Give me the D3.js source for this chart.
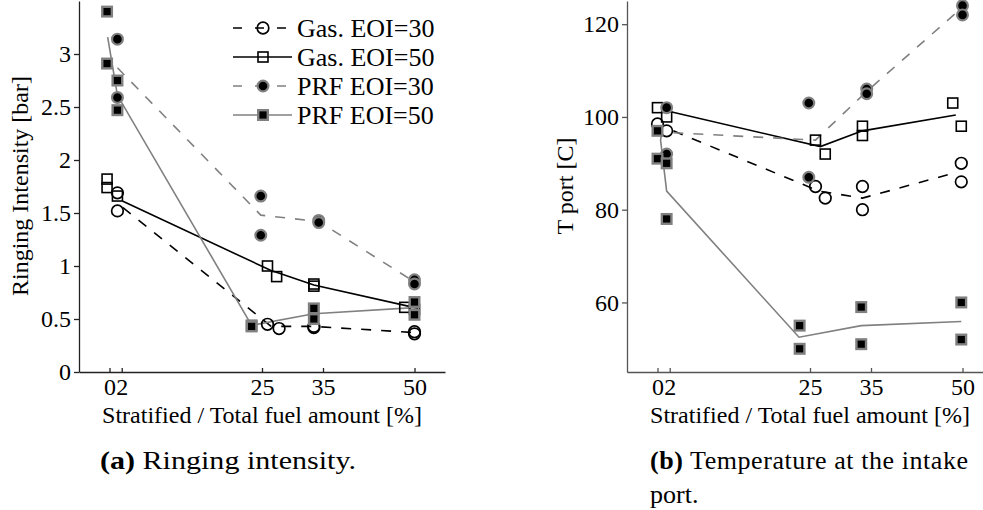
<!DOCTYPE html>
<html>
<head>
<meta charset="utf-8">
<script src="https://cdnjs.cloudflare.com/ajax/libs/d3/7.8.5/d3.min.js"></script>
<style>
body { margin: 0; background: #fff; }
text { font-family: "Liberation Serif", "Times New Roman", serif; fill: #000; }
</style>
</head>
<body>
<svg id="chart" width="983" height="510"></svg>
<script>
// x positions are the measured fuel split, slightly scattered around 0, 2, 25, 35, 50
var xTicks = [0, 2, 25, 35, 50];
var ringTicks = [0, 0.5, 1, 1.5, 2, 2.5, 3];
var tempTicks = [60, 80, 100, 120];

var seriesNames = ["Gas. EOI=30", "Gas. EOI=50", "PRF EOI=30", "PRF EOI=50"];

// (a) ringing intensity [bar]
var ringGas30 = [[1.3,1.69],[1.3,1.52],[25.9,0.45],[27.8,0.41],[33.5,0.43],[33.5,0.42],[50,0.38],[50,0.36]];
var ringGas50 = [[-0.4,1.82],[-0.4,1.74],[1.3,1.66],[25.9,1.00],[27.4,0.90],[33.5,0.83],[33.5,0.81],[48.4,0.61],[50,0.59]];
var ringPrf30 = [[1.3,3.14],[1.3,2.59],[24.8,1.66],[24.8,1.29],[34.3,1.43],[34.3,1.41],[50,0.87],[50,0.83]];
var ringPrf50 = [[-0.4,3.40],[-0.4,2.91],[1.3,2.75],[1.3,2.47],[23.3,0.44],[23.3,0.43],[33.5,0.60],[33.5,0.50],[50,0.66],[50,0.54]];
var ringGas30Line = [[2.2,1.55],[26.5,0.43],[33.5,0.43],[50.6,0.37]];
var ringGas50Line = [[2.2,1.61],[26.4,0.96],[33.5,0.82],[50.6,0.60]];
var ringPrf30Line = [[1.3,2.87],[24.8,1.48],[34.3,1.42],[50,0.85]];
var ringPrf50Line = [[-0.3,3.16],[1.3,2.61],[23.3,0.44],[33.5,0.55],[50.6,0.61]];

// (b) intake port temperature [C]
var tempGas30 = [[0,98.5],[1.5,97],[25.9,85],[27.5,82.5],[33.6,85],[33.6,80],[49.8,90],[49.8,86]];
var tempGas50 = [[0,102],[1.5,100],[25.9,95],[27.5,92],[33.6,98],[33.6,96],[48.4,103],[49.8,98]];
var tempPrf30 = [[1.5,102],[1.5,92],[24.8,103],[24.8,87],[34.3,106],[34.3,105],[50,124],[50,122]];
var tempPrf50 = [[0,97],[0,91],[1.5,90],[1.5,78],[23.3,55],[23.3,50],[33.4,59],[33.4,51],[49.8,60],[49.8,52]];
var tempGas30Line = [[2.6,97],[26.5,84],[33.6,82.5],[48.9,88]];
var tempGas50Line = [[1.3,101.4],[26.7,93.6],[33.6,97],[48.9,100.4]];
var tempPrf30Line = [[2.6,96.6],[25.9,95],[34.3,105.5],[49,122.5]];
var tempPrf50Line = [[0.8,97.5],[0.5,95],[1.5,84],[23.2,52.5],[33.4,55],[49.8,55.9]];

var svg = d3.select("#chart");
svg.append("rect").attr("width", 983).attr("height", 510).attr("fill", "#fff");

var grey = "#808080";
var styles = [
  {stroke: "#000", dash: "10,10", shape: "circle", fill: "none", edge: "#000"},
  {stroke: "#000", dash: null, shape: "square", fill: "none", edge: "#000"},
  {stroke: grey, dash: "10,10", shape: "circle", fill: "#000", edge: grey},
  {stroke: grey, dash: null, shape: "square", fill: "#000", edge: grey}
];

function drawMarker(sel, st, cx, cy) {
  if (st.shape == "circle") {
    sel.append("circle")
      .attr("cx", cx).attr("cy", cy)
      .attr("r", st.fill == "none" ? 5.8 : 5.4)
      .attr("fill", st.fill == "none" ? "none" : st.fill)
      .attr("stroke", st.edge)
      .attr("stroke-width", st.fill == "none" ? 1.7 : 2.2);
  } else {
    var s = st.fill == "none" ? 10 : 9.6;
    sel.append("rect")
      .attr("x", cx - s/2).attr("y", cy - s/2)
      .attr("width", s).attr("height", s)
      .attr("fill", st.fill == "none" ? "none" : st.fill)
      .attr("stroke", st.edge)
      .attr("stroke-width", st.fill == "none" ? 1.6 : 2.4);
  }
}

function drawPanel(opts) {
  var x = d3.scaleLinear().domain([-5, 55]).range([opts.left, opts.left + 366]);
  var y = d3.scaleLinear().domain(opts.yDomain).range([372, 1]);
  var g = svg.append("g");

  var line = d3.line()
      .x(function(d) { return x(d[0]); })
      .y(function(d) { return y(d[1]); });

  opts.lines.forEach(function(l, i) {
    g.append("path")
      .attr("d", line(l))
      .attr("fill", "none")
      .attr("stroke", styles[i].stroke)
      .attr("stroke-width", 1.6)
      .attr("stroke-dasharray", styles[i].dash);
  });

  opts.points.forEach(function(pts, i) {
    pts.forEach(function(p) {
      drawMarker(g, styles[i], x(p[0]), y(p[1]));
    });
  });

  var xAxis = g.append("g")
      .attr("transform", "translate(0,372)")
      .call(d3.axisBottom(x).tickValues(xTicks).tickSizeInner(-4).tickSizeOuter(0)
        .tickPadding(6).tickFormat(function(d) { return String(d); }));
  var yAxis = g.append("g")
      .attr("transform", "translate(" + opts.left + ",0)")
      .call(d3.axisLeft(y).tickValues(opts.yTicks).tickSizeInner(5).tickSizeOuter(0)
        .tickPadding(3).tickFormat(function(d) { return String(d); }));
  [xAxis, yAxis].forEach(function(a) {
    a.attr("font-family", null);
    a.selectAll("path, line").attr("stroke", opts.axisColor).attr("stroke-width", 1.3);
    a.selectAll("text").attr("font-size", 24);
  });

  g.append("text")
      .attr("x", opts.left + 183)
      .attr("y", 423)
      .attr("text-anchor", "middle")
      .attr("font-size", 24)
      .text("Stratified / Total fuel amount [%]");

  g.append("text")
      .attr("transform", "translate(" + opts.yLabelX + "," + opts.yLabelY + ") rotate(-90)")
      .attr("text-anchor", "middle")
      .attr("font-size", 24)
      .text(opts.yLabel);
}

drawPanel({
  left: 79, yDomain: [0, 3.5], yTicks: ringTicks, axisColor: "#222",
  yLabel: "Ringing Intensity [bar]", yLabelX: 28, yLabelY: 186,
  points: [ringGas30, ringGas50, ringPrf30, ringPrf50],
  lines: [ringGas30Line, ringGas50Line, ringPrf30Line, ringPrf50Line]
});

drawPanel({
  left: 627, yDomain: [45, 125], yTicks: tempTicks, axisColor: "#555",
  yLabel: "T port [C]", yLabelX: 573, yLabelY: 186,
  points: [tempGas30, tempGas50, tempPrf30, tempPrf50],
  lines: [tempGas30Line, tempGas50Line, tempPrf30Line, tempPrf50Line]
});

// legend inside panel (a)
var legend = svg.append("g");
seriesNames.forEach(function(name, i) {
  var ly = 28 + i * 29;
  legend.append("line")
    .attr("x1", 233).attr("x2", 292).attr("y1", ly).attr("y2", ly)
    .attr("stroke", styles[i].stroke).attr("stroke-width", 1.6)
    .attr("stroke-dasharray", styles[i].dash ? "9,13" : null);
  drawMarker(legend, styles[i], 263, ly);
  legend.append("text")
    .attr("x", 297).attr("y", ly + 9)
    .attr("font-size", 26)
    .text(name);
});

// sub captions
var capA = svg.append("text").attr("x", 100).attr("y", 469).attr("font-size", 26)
    .attr("textLength", 256).attr("lengthAdjust", "spacingAndGlyphs");
capA.append("tspan").attr("font-weight", "bold").text("(a)");
capA.append("tspan").text(" Ringing intensity.");

var capB = svg.append("text").attr("x", 650).attr("y", 469).attr("font-size", 26)
    .attr("textLength", 318).attr("lengthAdjust", "spacing");
capB.append("tspan").attr("font-weight", "bold").text("(b)");
capB.append("tspan").text(" Temperature at the intake");

svg.append("text").attr("x", 650).attr("y", 503).attr("font-size", 26).text("port.");
</script>
</body>
</html>
